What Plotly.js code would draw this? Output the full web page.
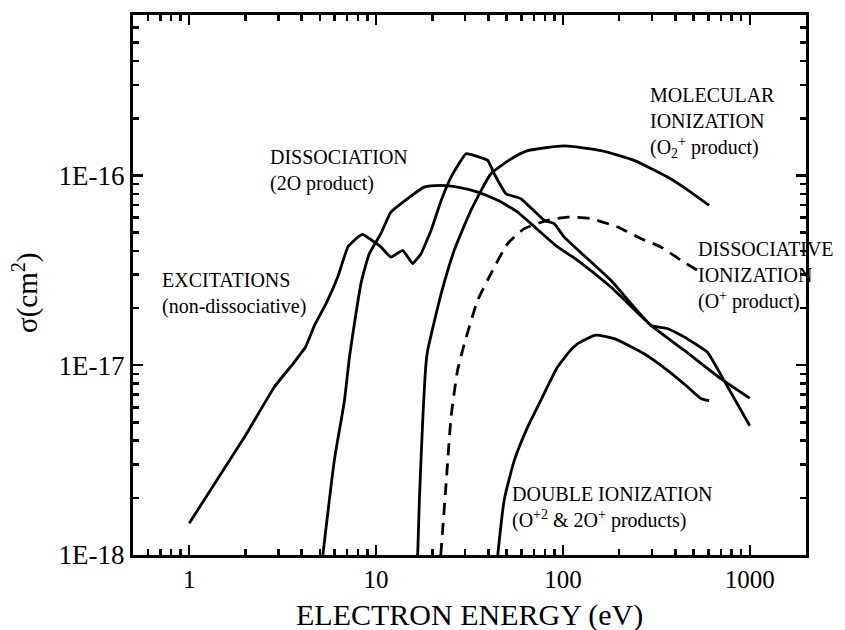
<!DOCTYPE html>
<html>
<head>
<meta charset="utf-8">
<script src="https://cdn.plot.ly/plotly-3.0.1.min.js"></script>
<style>html,body{margin:0;padding:0;background:#fff;}</style>
</head>
<body>
<div id="chart" style="width:845px;height:630px;"></div>
<script>
// Electron energy (eV) and cross section (cm^2)
const excE = [1, 1.98, 2.86, 3.6, 4.2, 4.68, 5.4, 6.24, 7.06, 7.98, 8.49, 10.6, 12.0, 13.9, 15.7, 17.4, 19.7, 22.3, 25.2, 30.3, 39.6, 42.9, 49.6, 59.6, 79.4, 89.8, 101.6, 180.6, 296, 363, 445, 594, 729, 1000];
const excS = [1.47e-18, 4.2e-18, 7.7e-18, 1.02e-17, 1.25e-17, 1.62e-17, 2.11e-17, 2.92e-17, 4.2e-17, 4.73e-17, 4.89e-17, 4.2e-17, 3.71e-17, 4.03e-17, 3.43e-17, 3.87e-17, 5.14e-17, 7.38e-17, 9.8e-17, 1.30e-16, 1.2e-16, 1.02e-16, 8.0e-17, 7.54e-17, 5.8e-17, 5.57e-17, 4.73e-17, 2.8e-17, 1.62e-17, 1.56e-17, 1.41e-17, 1.17e-17, 8.3e-18, 4.8e-18];

const dissE = [5.19, 5.98, 6.77, 7.2, 8.3, 9.2, 10.6, 12.0, 13.6, 18.1, 22.3, 27.3, 35, 44.8, 57.2, 67.4, 93.7, 119.8, 180.6, 296, 445, 700, 1000];
const dissS = [1e-18, 3.16e-18, 6.5e-18, 1.1e-17, 2.69e-17, 3.87e-17, 4.93e-17, 6.4e-17, 7.1e-17, 8.68e-17, 8.86e-17, 8.68e-17, 8.17e-17, 7.39e-17, 6.41e-17, 5.57e-17, 4.2e-17, 3.57e-17, 2.58e-17, 1.62e-17, 1.2e-17, 8.5e-18, 6.7e-18];

const molE = [16.7, 17.05, 17.8, 18.5, 18.9, 22.3, 26.2, 32.2, 41.2, 52.7, 64.8, 101.6, 160, 240, 363, 483, 606];
const molS = [1e-18, 1.95e-18, 5.34e-18, 1.02e-17, 1.2e-17, 2.38e-17, 4.03e-17, 6.55e-17, 1.02e-16, 1.22e-16, 1.35e-16, 1.43e-16, 1.35e-16, 1.2e-16, 9.8e-17, 8.17e-17, 6.95e-17];

const dionE = [22.2, 23.7, 25.2, 27.3, 29.7, 35, 41.2, 50.6, 62.1, 82.8, 106, 141, 196, 261, 334, 428, 525];
const dionS = [1e-18, 2.38e-18, 5.34e-18, 9.4e-18, 1.3e-17, 2.2e-17, 3.04e-17, 4.37e-17, 5.24e-17, 5.8e-17, 6.03e-17, 5.92e-17, 5.35e-17, 4.65e-17, 4.2e-17, 3.57e-17, 3.16e-17];

const dblE = [44.8, 48.5, 55, 64.8, 76.3, 93.7, 110, 120, 150, 188, 272, 363, 464, 547, 606];
const dblS = [1e-18, 1.95e-18, 3.16e-18, 4.73e-18, 6.55e-18, 9.8e-18, 1.2e-17, 1.3e-17, 1.44e-17, 1.38e-17, 1.15e-17, 9.4e-18, 7.7e-18, 6.68e-18, 6.5e-18];

const xTickVals = [1, 10, 100, 1000];
const xTickText = ["1", "10", "100", "1000"];
const yTickVals = [1e-18, 1e-17, 1e-16];
const yTickText = ["1E-18", "1E-17", "1E-16"];

const xTitle = "ELECTRON ENERGY (eV)";
const yTitle = "σ(cm<sup>2</sup>)";

const labelTexts = [
  "EXCITATIONS<br>(non-dissociative)",
  "DISSOCIATION<br>(2O product)",
  "MOLECULAR<br>IONIZATION<br>(O<sub>2</sub><sup>+</sup> product)",
  "DISSOCIATIVE<br>IONIZATION<br>(O<sup>+</sup> product)",
  "DOUBLE IONIZATION<br>(O<sup>+2</sup> &amp; 2O<sup>+</sup> products)"
];

function minorVals(lo, hi) {
  const v = [];
  for (let p = lo; p <= hi; p++) {
    for (let m = 2; m <= 9; m++) v.push(m * Math.pow(10, p));
  }
  return v;
}

const FONT = "'Liberation Serif', 'Times New Roman', Times, serif";
const smooth = {color: "black", width: 2.8, shape: "spline", smoothing: 0.5};

const traces = [
  {x: excE, y: excS, mode: "lines", line: {color: "black", width: 2.8, shape: "spline", smoothing: 0.3}},
  {x: dissE, y: dissS, mode: "lines", line: smooth},
  {x: molE, y: molS, mode: "lines", line: smooth},
  {x: dionE, y: dionS, mode: "lines", line: {color: "black", width: 2.8, dash: "12px,8px", shape: "spline", smoothing: 0.5}},
  {x: dblE, y: dblS, mode: "lines", line: smooth}
];

// label positions in paper fraction
const L = 133, R = 806, T = 15, B = 555;
function px(x) { return (x - L) / (R - L); }
function py(y) { return (B - y) / (B - T); }
const labelPos = [[160, 294], [268, 171], [648, 122], [696, 275], [510, 507]];

const annotations = labelTexts.map((t, i) => ({
  text: t, xref: "paper", yref: "paper",
  x: px(labelPos[i][0]), y: py(labelPos[i][1]),
  xanchor: "left", yanchor: "middle", align: "left", showarrow: false,
  font: {family: FONT, size: 20, color: "black"}
}));

// axis titles
annotations.push({
  text: xTitle, xref: "paper", yref: "paper", x: px(469), y: py(615),
  xanchor: "center", yanchor: "middle", showarrow: false,
  font: {family: FONT, size: 30, color: "black"}
});
annotations.push({
  text: yTitle, xref: "paper", yref: "paper", x: px(25), y: py(292),
  xanchor: "center", yanchor: "middle", showarrow: false, textangle: -90,
  font: {family: FONT, size: 29, color: "black"}
});

const layout = {
  width: 845, height: 630,
  margin: {l: L, r: 845 - R, t: T, b: 630 - B},
  paper_bgcolor: "white", plot_bgcolor: "white",
  showlegend: false,
  font: {family: FONT, color: "black"},
  xaxis: {
    type: "log", range: [Math.log10(0.5), Math.log10(2000)],
    showgrid: false, zeroline: false,
    showline: true, linewidth: 3, linecolor: "black", mirror: "ticks",
    ticks: "inside", ticklen: 10, tickwidth: 2.5, tickcolor: "black",
    tickmode: "array", tickvals: xTickVals, ticktext: xTickText,
    tickfont: {family: FONT, size: 25, color: "black"},
    minor: {tickmode: "array", tickvals: minorVals(-1, 3), ticks: "inside", ticklen: 6, tickwidth: 2.5, tickcolor: "black", showgrid: false}
  },
  yaxis: {
    type: "log", range: [-18, Math.log10(7e-16)],
    showgrid: false, zeroline: false,
    showline: true, linewidth: 3, linecolor: "black", mirror: "ticks",
    ticks: "inside", ticklen: 10, tickwidth: 2.5, tickcolor: "black",
    tickmode: "array", tickvals: yTickVals, ticktext: yTickText,
    tickfont: {family: FONT, size: 27, color: "black"},
    minor: {tickmode: "array", tickvals: minorVals(-18, -16), ticks: "inside", ticklen: 6, tickwidth: 2.5, tickcolor: "black", showgrid: false}
  },
  annotations: annotations
};

Plotly.newPlot("chart", traces, layout, {staticPlot: true, displayModeBar: false});
</script>
</body>
</html>
